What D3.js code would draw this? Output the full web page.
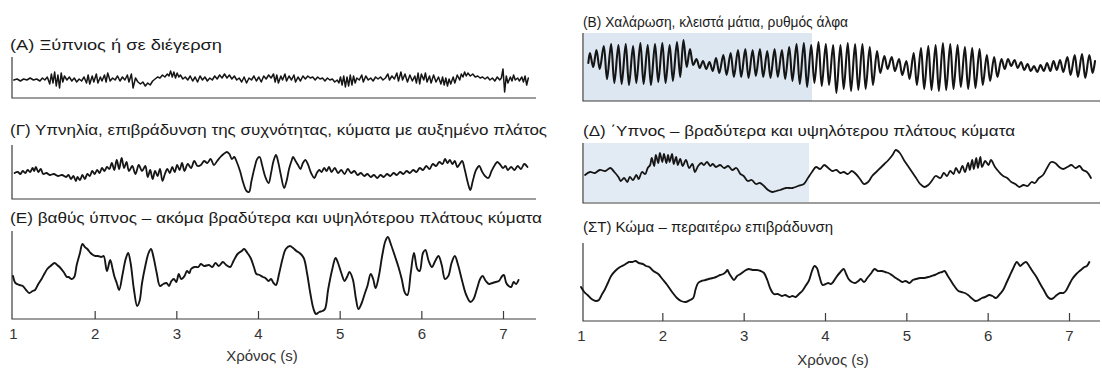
<!DOCTYPE html>
<html>
<head>
<meta charset="utf-8">
<script src="https://cdnjs.cloudflare.com/ajax/libs/d3/7.8.5/d3.min.js"></script>
<style>
  body { margin: 0; background: #fff; }
  svg { display: block; font-family: "Liberation Sans", Arial, sans-serif; }
  .frame { fill: none; stroke: #3c3c3c; stroke-width: 1.2; }
  .trace { fill: none; stroke: #151515; stroke-linejoin: round; stroke-linecap: round; }
  .title { font-size: 14px; fill: #1a1a1a; }
  .axis text { font-size: 15px; fill: #333; font-family: "Liberation Sans", Arial, sans-serif; }
  .axis line { stroke: #3c3c3c; stroke-width: 1.2; }
  .axis-label { font-size: 15px; fill: #333; text-anchor: middle; }
</style>
</head>
<body>
<div id="chart"></div>
<script>
// ---- data (time in s, amplitude in arbitrary units) ----
const timeTicks = [1, 2, 3, 4, 5, 6, 7];
const axisTitle = 'Χρόνος (s)';

const titleA = '(Α) Ξύπνιος ή σε διέγερση';
const titleB = '(Β) Χαλάρωση, κλειστά μάτια, ρυθμός άλφα';
const titleG = '(Γ) Υπνηλία, επιβράδυνση της συχνότητας, κύματα με αυξημένο πλάτος';
const titleD = '(Δ) ΄Υπνος – βραδύτερα και υψηλότερου πλάτους κύματα';
const titleE = '(Ε) βαθύς ύπνος – ακόμα βραδύτερα και υψηλότερου πλάτους κύματα';
const titleST = '(ΣΤ) Κώμα – περαιτέρω επιβράδυνση';

const traceA = [[1.01,0],[1.05,1],[1.09,-1],[1.13,1],[1.17,0],[1.21,2],[1.25,0],[1.29,1],[1.33,-1],[1.36,2],[1.39,0],[1.42,3],
  [1.45,-4],[1.47,6],[1.49,-3],[1.51,8],[1.53,-6],[1.55,5],[1.57,-8],[1.59,7],[1.61,-2],[1.63,4],
  [1.66,0],[1.69,3],[1.72,-1],[1.75,2],[1.78,-2],[1.81,1],[1.84,-1],[1.87,3],
  [1.90,-3],[1.92,5],[1.94,-4],[1.97,4],[1.99,-2],[2.02,6],[2.04,-3],[2.07,3],[2.09,-1],[2.12,5],[2.14,-2],[2.16,7],
  [2.19,-1],[2.22,2],[2.25,0],[2.28,4],[2.31,-1],[2.34,3],[2.37,0],[2.40,5],[2.42,-2],[2.45,6],[2.47,-8],[2.50,2],[2.53,-2],
  [2.56,-4],[2.59,-2],[2.62,-6],[2.65,-3],[2.68,-5],[2.71,-1],
  [2.74,1],[2.77,3],[2.80,2],[2.83,5],[2.86,3],[2.89,6],
  [2.91,4],[2.93,9],[2.95,3],[2.97,8],[2.99,2],[3.01,7],[3.03,3],[3.05,5],
  [3.08,1],[3.11,3],[3.14,0],[3.17,4],[3.20,-1],[3.23,3],[3.26,-2],[3.29,4],[3.32,0],[3.35,3],[3.38,-1],[3.41,2],
  [3.44,0],[3.47,4],[3.50,1],[3.53,5],[3.56,2],[3.59,6],[3.62,2],[3.65,5],[3.68,1],[3.71,4],[3.74,0],
  [3.77,2],[3.80,-2],[3.83,3],[3.86,-3],[3.89,2],[3.92,0],[3.95,4],[3.98,-1],[4.01,3],[4.04,-2],[4.07,4],[4.10,1],[4.13,5],[4.16,2],
  [4.19,6],[4.21,-2],[4.23,5],[4.25,-3],[4.28,4],[4.30,0],[4.33,6],[4.35,-1],[4.38,4],[4.41,0],[4.44,5],[4.46,-2],[4.49,3],[4.52,-1],[4.55,4],
  [4.58,1],[4.61,4],[4.64,2],[4.67,3],[4.70,0],[4.73,3],[4.76,1],[4.79,2],[4.82,-1],[4.85,2],[4.88,0],[4.91,1],[4.94,-2],[4.97,0],
  [4.99,-3],[5.01,3],[5.03,-5],[5.05,4],[5.07,-7],[5.09,3],[5.11,-6],[5.13,5],[5.15,-5],[5.17,4],[5.19,-3],[5.21,2],
  [5.24,0],[5.27,5],[5.29,-2],[5.32,4],[5.35,0],[5.38,2],[5.41,-1],[5.44,3],[5.47,1],[5.50,3],[5.53,0],
  [5.56,2],[5.59,6],[5.61,0],[5.64,4],[5.67,1],[5.70,7],[5.72,-1],[5.75,8],[5.77,0],[5.80,6],[5.83,-2],[5.86,5],[5.89,-1],
  [5.92,4],[5.94,-3],[5.96,7],[5.98,-4],[6.00,6],[6.03,0],[6.05,7],[6.07,-2],[6.10,4],[6.12,-3],[6.15,5],[6.18,-2],[6.21,3],[6.24,-4],
  [6.26,3],[6.28,-5],[6.30,2],[6.32,-6],[6.34,1],[6.36,-4],[6.39,3],[6.41,-3],[6.44,5],[6.47,0],[6.49,6],
  [6.51,3],[6.53,8],[6.55,4],[6.57,7],[6.60,4],[6.63,6],[6.66,3],[6.69,4],[6.72,2],
  [6.75,3],[6.78,1],[6.81,3],[6.84,0],[6.87,2],[6.90,-1],[6.93,3],[6.96,0],
  [6.98,2],[7.00,11],[7.02,-12],[7.04,4],[7.06,-3],
  [7.09,3],[7.11,-1],[7.13,5],[7.15,0],[7.18,2],[7.20,-1],[7.23,3],[7.25,-2],[7.27,4],[7.29,-5],[7.31,2]];

const traceB = [[1.09,2],[1.11,12],[1.15,-2],[1.19,15],[1.23,-4],
  [1.28,19],[1.32,-14],[1.37,21],[1.41,-18],[1.46,20],[1.50,-19],[1.55,21],[1.59,-20],[1.64,19],[1.68,-18],
  [1.73,22],[1.77,-19],[1.82,20],[1.86,-20],[1.91,21],[1.95,-17],[2.00,22],[2.04,-18],[2.09,20],[2.13,-16],
  [2.18,23],[2.22,-12],[2.26,25],[2.30,-2],
  [2.34,16],[2.38,0],[2.42,6],[2.46,-3],[2.50,4],[2.54,-4],[2.58,3],[2.62,-6],
  [2.66,7],[2.70,-8],[2.75,10],[2.79,-10],[2.84,12],[2.88,-12],
  [2.93,15],[2.97,-12],[3.02,16],[3.06,-13],[3.11,15],[3.15,-11],[3.20,16],[3.24,-12],[3.29,14],[3.33,-13],
  [3.38,16],[3.42,-12],[3.47,15],[3.51,-14],[3.56,18],[3.60,-16],
  [3.65,21],[3.69,-19],[3.74,22],[3.78,-22],[3.83,20],[3.87,-18],[3.92,23],[3.96,-21],[4.01,21],[4.05,-20],[4.10,20],[4.14,-28],
  [4.19,20],[4.23,-24],[4.28,22],[4.32,-26],[4.37,21],[4.41,-25],[4.46,21],[4.50,-24],[4.55,18],[4.59,-20],[4.64,14],
  [4.68,-8],[4.73,9],[4.77,-4],[4.82,8],[4.86,-6],[4.91,6],[4.95,-10],[5.00,4],[5.04,-14],
  [5.09,12],[5.13,-20],[5.18,17],[5.22,-24],[5.27,19],[5.31,-25],[5.36,20],[5.40,-26],[5.45,22],[5.49,-25],
  [5.54,21],[5.58,-24],[5.63,20],[5.67,-22],[5.72,18],[5.76,-24],[5.81,17],[5.85,-23],[5.90,16],[5.94,-20],
  [5.99,10],[6.03,-16],[6.08,8],[6.12,-12],[6.17,6],
  [6.21,-4],[6.25,6],[6.29,-1],[6.33,5],[6.37,-3],[6.41,3],[6.45,-5],[6.49,1],[6.53,-6],[6.57,-1],[6.61,-7],
  [6.65,0],[6.69,-6],[6.73,2],[6.77,-6],[6.81,4],[6.85,-5],[6.89,5],[6.93,-7],
  [6.98,8],[7.02,-10],[7.07,10],[7.11,-12],[7.16,11],[7.20,-13],[7.25,10],[7.29,-8],[7.32,4]];

const traceG = [[1.02,0],[1.06,1],[1.09,-1],[1.12,2],[1.15,0],[1.18,3],[1.21,1],[1.24,5],[1.26,2],[1.28,6],[1.31,1],[1.34,4],
  [1.37,-1],[1.41,0],[1.45,-2],[1.50,-1],[1.55,-3],[1.60,-2],[1.65,-4],[1.68,-2],[1.71,-6],[1.74,-3],[1.77,-8],[1.79,-4],
  [1.82,-7],[1.85,-2],[1.88,-6],[1.91,-1],[1.94,-3],[1.97,2],[2.00,-1],[2.03,3],[2.06,0],[2.09,5],[2.12,2],[2.15,6],
  [2.18,4],[2.21,10],[2.24,3],[2.27,13],[2.30,4],[2.33,15],[2.36,5],[2.39,11],[2.42,2],[2.46,7],[2.50,-1],[2.54,8],
  [2.58,2],[2.62,7],[2.65,-4],[2.68,3],[2.71,-6],[2.74,2],[2.77,-3],[2.80,4],[2.83,-8],[2.86,-1],[2.89,4],[2.92,0],
  [2.95,6],[2.98,1],[3.01,8],[3.04,3],[3.07,10],[3.10,2],[3.14,9],[3.18,5],[3.22,12],[3.26,7],
  [3.30,8],[3.34,12],[3.38,10],[3.42,14],[3.46,8],[3.50,12],[3.54,16],[3.58,19],[3.62,21],[3.65,19],[3.68,14],[3.71,16],
  [3.74,11],[3.78,2],[3.82,-10],[3.86,-18],[3.89,-19],[3.92,-8],[3.96,6],[3.99,14],[4.02,16],[4.05,8],[4.09,-4],[4.13,-10],
  [4.16,0],[4.19,12],[4.22,18],[4.25,10],[4.28,-2],[4.32,-15],[4.35,-8],[4.38,4],[4.41,12],[4.43,16],[4.46,12],[4.49,8],
  [4.52,4],[4.55,10],[4.58,13],[4.61,9],[4.65,0],[4.69,-5],[4.72,0],[4.75,3],[4.78,1],[4.81,5],[4.84,2],[4.87,6],
  [4.90,1],[4.94,5],[4.98,0],[5.02,3],[5.06,-1],[5.10,4],[5.14,0],[5.18,2],[5.22,-2],[5.26,0],[5.30,-3],[5.34,-1],
  [5.38,-4],[5.42,-2],[5.46,-5],[5.50,-2],[5.54,-4],[5.58,-1],[5.62,-3],[5.66,0],[5.70,-2],[5.74,1],[5.78,-1],[5.82,2],
  [5.86,0],[5.90,3],[5.94,1],[5.98,5],[6.02,3],[6.06,7],[6.10,4],[6.14,9],[6.18,7],[6.22,11],[6.26,9],[6.29,14],
  [6.32,10],[6.35,13],[6.38,9],[6.41,12],[6.44,6],[6.47,9],[6.50,12],[6.53,4],[6.57,-10],[6.60,-17],[6.63,-8],[6.67,3],
  [6.71,7],[6.74,2],[6.78,-3],[6.82,-5],[6.86,2],[6.90,8],[6.93,11],[6.96,9],[7.00,5],[7.03,7],[7.06,3],[7.10,6],
  [7.14,3],[7.18,7],[7.22,4],[7.26,9],[7.30,6]];

const traceD = [[1.05,1],[1.11,4],[1.17,3],[1.23,6],[1.30,5],[1.36,8],[1.41,4],[1.46,-1],[1.49,-5],[1.53,-2],[1.57,-6],
  [1.60,-1],[1.64,-4],[1.68,1],[1.71,-3],[1.75,4],[1.79,2],[1.82,8],[1.85,11],[1.87,18],[1.90,10],[1.92,21],[1.95,13],
  [1.97,23],[2.00,14],[2.02,22],[2.05,13],[2.07,21],[2.09,14],[2.12,22],[2.14,12],[2.17,19],[2.19,11],[2.22,17],[2.25,10],
  [2.29,16],[2.33,8],[2.37,12],[2.40,4],[2.44,10],[2.48,13],[2.51,11],[2.55,14],[2.59,10],[2.62,12],[2.66,9],[2.71,11],
  [2.76,8],[2.81,10],[2.86,6],[2.91,8],[2.96,2],[3.00,0],[3.05,-5],[3.10,-4],[3.15,-8],[3.20,-7],[3.25,-10],[3.30,-14],
  [3.35,-16],[3.40,-15],[3.45,-14],[3.52,-12],[3.60,-12],[3.67,-10],[3.74,-8],[3.79,-2],[3.84,4],[3.89,9],[3.94,7],[3.99,11],
  [4.04,8],[4.09,5],[4.14,6],[4.19,3],[4.23,4],[4.28,2],[4.33,5],[4.38,2],[4.43,-3],[4.48,-8],[4.53,-6],[4.58,0],
  [4.63,4],[4.68,8],[4.73,12],[4.78,16],[4.83,21],[4.87,26],[4.92,23],[4.97,16],[5.02,10],[5.07,4],[5.12,-2],[5.17,-8],
  [5.22,-11],[5.27,-9],[5.32,-4],[5.36,0],[5.42,-2],[5.46,3],[5.50,0],[5.54,5],[5.58,2],[5.61,8],[5.65,3],[5.69,10],
  [5.72,4],[5.76,13],[5.78,6],[5.81,16],[5.83,7],[5.86,18],[5.88,8],[5.91,19],[5.93,9],[5.97,15],[6.01,11],[6.04,16],
  [6.09,9],[6.14,4],[6.19,0],[6.24,-2],[6.29,-6],[6.34,-8],[6.39,-11],[6.44,-9],[6.49,-10],[6.54,-6],[6.58,-7],[6.63,-2],
  [6.68,1],[6.73,8],[6.78,14],[6.83,13],[6.88,9],[6.93,7],[6.98,9],[7.03,11],[7.08,8],[7.13,10],[7.17,6],[7.22,4],[7.27,-2]];

const traceE = [[1.00,5],[1.03,-2],[1.08,-4],[1.12,-5],[1.16,-9],[1.20,-12],[1.24,-10],[1.27,-9],[1.31,-3],[1.35,2],
  [1.39,8],[1.42,12],[1.46,15],[1.51,18],[1.54,16],[1.57,14],[1.62,9],[1.66,4],[1.68,4],[1.72,2],[1.75,4],[1.78,16],
  [1.82,28],[1.85,37],[1.88,34],[1.91,32],[1.95,28],[1.98,26],[2.01,25],[2.04,25],[2.08,24],[2.11,25],[2.15,10],[2.19,21],
  [2.22,12],[2.24,5],[2.27,-2],[2.30,-9],[2.34,6],[2.38,22],[2.41,28],[2.44,18],[2.48,-8],[2.52,-25],[2.55,-20],[2.58,-2],
  [2.62,15],[2.66,28],[2.69,32],[2.72,24],[2.76,8],[2.80,-5],[2.84,-3],[2.88,-2],[2.91,-5],[2.94,0],[2.97,2],[3.00,-1],
  [3.03,7],[3.06,2],[3.10,5],[3.13,10],[3.16,8],[3.18,12],[3.22,14],[3.27,14],[3.30,17],[3.34,15],[3.40,16],[3.44,14],
  [3.48,18],[3.52,15],[3.57,19],[3.61,16],[3.66,14],[3.70,20],[3.75,27],[3.80,30],[3.83,32],[3.87,28],[3.91,23],[3.95,14],
  [3.98,7],[4.02,6],[4.06,4],[4.09,3],[4.13,0],[4.16,2],[4.19,-2],[4.22,-4],[4.26,8],[4.30,22],[4.34,32],[4.39,35],
  [4.43,33],[4.47,30],[4.51,28],[4.56,23],[4.60,8],[4.64,-12],[4.68,-28],[4.71,-33],[4.75,-31],[4.79,-30],[4.82,-28],[4.86,-8],
  [4.91,12],[4.95,23],[4.98,18],[5.02,8],[5.06,0],[5.09,4],[5.12,9],[5.16,2],[5.20,-18],[5.23,-28],[5.27,-22],[5.31,-12],
  [5.34,-5],[5.38,7],[5.41,2],[5.44,-7],[5.48,5],[5.52,25],[5.56,40],[5.59,44],[5.63,36],[5.68,24],[5.72,14],[5.76,2],
  [5.80,-12],[5.83,-14],[5.87,8],[5.91,28],[5.95,12],[5.98,10],[6.02,28],[6.05,31],[6.09,20],[6.13,14],[6.17,20],[6.21,25],
  [6.25,16],[6.29,2],[6.33,5],[6.37,18],[6.41,25],[6.45,16],[6.50,0],[6.55,-14],[6.60,-21],[6.64,-18],[6.68,-8],[6.72,2],
  [6.75,5],[6.79,0],[6.83,-3],[6.87,-2],[6.91,-1],[6.95,0],[6.99,5],[7.01,6],[7.04,-2],[7.07,-5],[7.10,-6],[7.13,-1],
  [7.16,-3],[7.19,1]];

const traceST = [[1.00,-4],[1.04,-9],[1.08,-12],[1.13,-16],[1.18,-18],[1.22,-17],[1.26,-11],[1.29,-7],[1.33,0],[1.37,7],
  [1.42,12],[1.48,16],[1.53,18],[1.59,21],[1.63,21],[1.67,22],[1.71,20],[1.76,19],[1.80,17],[1.84,16],[1.89,12],[1.95,9],
  [2.00,4],[2.06,-2],[2.12,-9],[2.18,-15],[2.23,-18],[2.29,-19],[2.34,-17],[2.38,-15],[2.41,-6],[2.44,0],[2.48,2],[2.53,3],
  [2.57,4],[2.62,5],[2.66,6],[2.71,8],[2.75,9],[2.78,11],[2.80,13],[2.82,10],[2.85,6],[2.88,3],[2.92,7],[2.96,9],
  [3.01,12],[3.06,14],[3.11,13],[3.16,13],[3.21,12],[3.25,10],[3.29,3],[3.33,-6],[3.37,-11],[3.42,-11],[3.47,-13],[3.51,-12],
  [3.56,-14],[3.60,-13],[3.64,-14],[3.68,-11],[3.72,-8],[3.76,-3],[3.80,2],[3.84,12],[3.87,17],[3.90,15],[3.93,7],[3.97,-2],
  [4.01,-1],[4.04,0],[4.07,-1],[4.10,1],[4.14,6],[4.19,11],[4.23,14],[4.26,9],[4.29,4],[4.33,1],[4.37,0],[4.41,2],
  [4.44,4],[4.48,1],[4.52,5],[4.57,10],[4.61,14],[4.65,12],[4.70,12],[4.74,11],[4.78,10],[4.82,8],[4.87,5],[4.91,3],
  [4.95,1],[4.99,2],[5.04,0],[5.08,3],[5.12,4],[5.17,5],[5.22,5],[5.27,6],[5.31,7],[5.35,8],[5.40,10],[5.44,11],
  [5.47,12],[5.51,7],[5.55,2],[5.59,-3],[5.64,-8],[5.68,-9],[5.72,-10],[5.76,-12],[5.80,-15],[5.85,-18],[5.89,-17],[5.93,-15],
  [5.97,-14],[6.02,-12],[6.06,-13],[6.10,-15],[6.14,-12],[6.19,-7],[6.23,0],[6.27,7],[6.31,14],[6.36,21],[6.40,17],[6.43,19],
  [6.47,21],[6.51,17],[6.55,12],[6.60,6],[6.64,0],[6.69,-7],[6.74,-14],[6.78,-16],[6.81,-15],[6.85,-12],[6.89,-10],[6.93,-10],
  [6.96,-8],[7.00,-2],[7.04,4],[7.09,9],[7.13,12],[7.16,14],[7.19,16],[7.22,17],[7.25,21]];

// ---- layout ----
const config = {
  width: 1102,
  height: 370,
  tickSize: 8,
  tickPadding: 9,
  columns: {
    left:  { frameX: 12,  lineEnd: 536,  range: [13, 503],  titleX: 10,  labelX: 262, labelY: 361 },
    right: { frameX: 583, lineEnd: 1100, range: [581, 1069], titleX: 583, labelX: 833, labelY: 365 }
  },
  // faint blue paper tint behind parts of the scan
  tints: [
    { x: 584, y: 33, w: 228, h: 68, color: '#dce7f1' },
    { x: 584, y: 143, w: 225, h: 59, color: '#e2ebf3' }
  ]
};

const panels = [
  { col: 'left',  title: titleA,  data: traceA,  top: 57,  bottom: 98,  zero: 80,  titleY: 50,  titleW: 212, stroke: 1.5, curve: d3.curveLinear,     axis: false },
  { col: 'left',  title: titleG,  data: traceG,  top: 145, bottom: 199, zero: 173, titleY: 135, titleW: 537, stroke: 1.8, curve: d3.curveCatmullRom, axis: false },
  { col: 'left',  title: titleE,  data: traceE,  top: 231, bottom: 319, zero: 281, titleY: 223, titleW: 532, stroke: 1.9, curve: d3.curveCatmullRom, axis: true },
  { col: 'right', title: titleB,  data: traceB,  top: 33,  bottom: 101, zero: 65,  titleY: 27,  titleW: 265, stroke: 2.1, curve: d3.curveCatmullRom, axis: false },
  { col: 'right', title: titleD,  data: traceD,  top: 143, bottom: 203, zero: 176, titleY: 136, titleW: 432, stroke: 1.8, curve: d3.curveCatmullRom, axis: false },
  { col: 'right', title: titleST, data: traceST, top: 243, bottom: 321, zero: 283, titleY: 232, titleW: 250, stroke: 1.9, curve: d3.curveCatmullRom, axis: true }
];

const svg = d3.select('#chart').append('svg')
  .attr('width', config.width)
  .attr('height', config.height);

svg.selectAll('rect.tint')
  .data(config.tints)
  .join('rect')
  .attr('class', 'tint')
  .attr('x', d => d.x).attr('y', d => d.y)
  .attr('width', d => d.w).attr('height', d => d.h)
  .attr('fill', d => d.color);

panels.forEach(p => {
  const col = config.columns[p.col];
  const x = d3.scaleLinear().domain([1, 7]).range(col.range);
  const y = d3.scaleLinear().domain([p.zero - p.bottom, p.zero - p.top]).range([p.bottom, p.top]);
  const g = svg.append('g').attr('class', 'panel');

  g.append('text')
    .attr('class', 'title')
    .attr('x', col.titleX)
    .attr('y', p.titleY)
    .attr('textLength', p.titleW)
    .attr('lengthAdjust', 'spacingAndGlyphs')
    .text(p.title);

  // left edge + baseline of the recording strip
  g.append('path')
    .attr('class', 'frame')
    .attr('d', `M${col.frameX},${p.top}V${p.bottom}H${col.lineEnd}`);

  const line = d3.line()
    .x(d => x(d[0]))
    .y(d => y(d[1]))
    .curve(p.curve);

  g.append('path')
    .datum(p.data)
    .attr('class', 'trace')
    .attr('stroke-width', p.stroke)
    .attr('d', line);

  if (p.axis) {
    const axis = g.append('g')
      .attr('class', 'axis')
      .attr('transform', `translate(0,${p.bottom})`)
      .call(d3.axisBottom(x)
        .tickValues(timeTicks)
        .tickFormat(d3.format('d'))
        .tickSizeInner(-config.tickSize)
        .tickSizeOuter(0)
        .tickPadding(config.tickPadding));
    axis.select('.domain').remove();
    axis.selectAll('.tick').filter(d => d === 1).select('line').remove();

    g.append('text')
      .attr('class', 'axis-label')
      .attr('x', col.labelX)
      .attr('y', col.labelY)
      .text(axisTitle);
  }
});
</script>
</body>
</html>
